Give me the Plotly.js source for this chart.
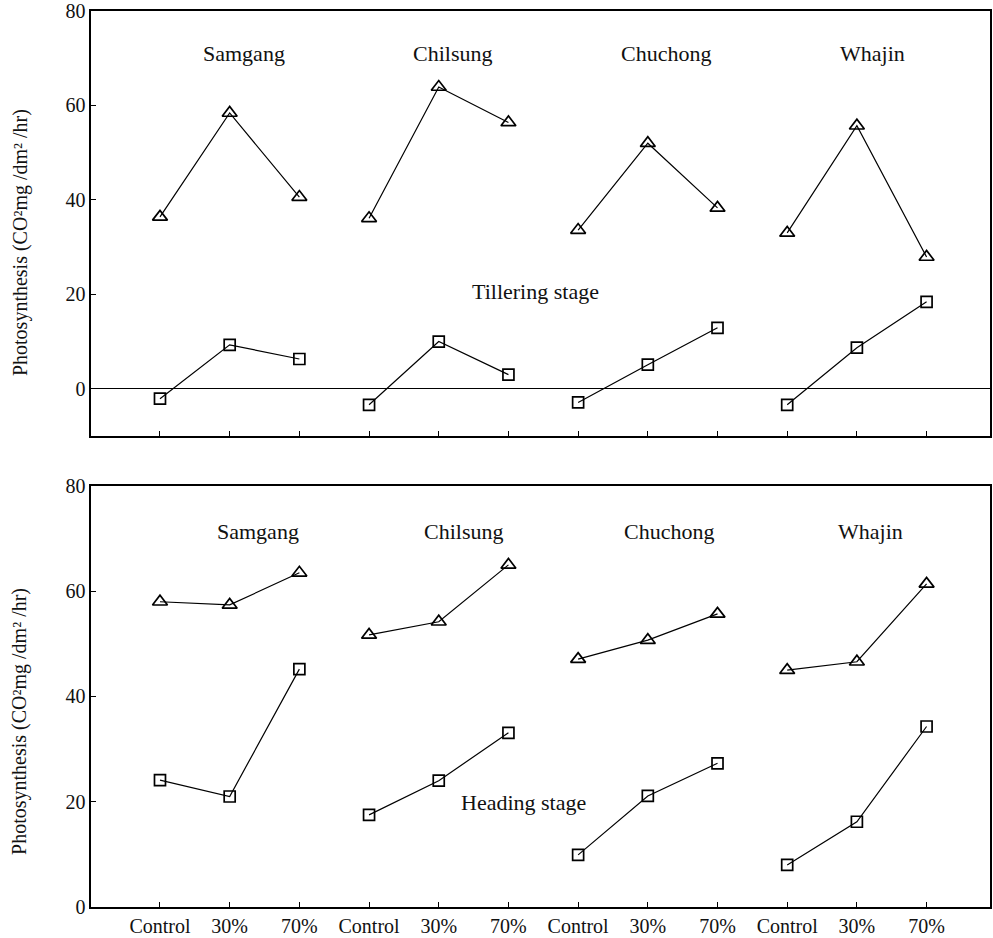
<!DOCTYPE html>
<html><head><meta charset="utf-8">
<script src="https://cdn.plot.ly/plotly-3.0.1.min.js"></script>
<style>body{margin:0;background:#fff}#chart{width:993px;height:938px}</style>
</head><body><div id="chart"></div>
<script>
const cultivars = ["Samgang", "Chilsung", "Chuchong", "Whajin"];
const treatments = ["Control", "30%", "70%"];
const tillerTriangle = [36.4, 58.4, 40.6, 36.1, 63.9, 56.4, 33.6, 52.0, 38.3, 33.0, 55.7, 27.9];
const tillerSquare = [-2.1, 9.3, 6.3, -3.4, 10.0, 3.0, -2.9, 5.1, 12.9, -3.4, 8.7, 18.4];
const headTriangle = [58.0, 57.4, 63.5, 51.7, 54.2, 65.0, 47.1, 50.7, 55.7, 45.0, 46.6, 61.4];
const headSquare = [24.1, 21.0, 45.2, 17.5, 24.0, 33.1, 9.9, 21.1, 27.3, 8.0, 16.2, 34.3];
const yTicks = [0, 20, 40, 60, 80];

const FONT = "Liberation Serif";
const positions = [];
const tickText = [];
cultivars.forEach((c, g) => treatments.forEach((t, k) => { positions.push(g * 3 + k); tickText.push(t); }));

const traces = [];
function addSeries(values, symbol, size, xa, ya) {
  cultivars.forEach((c, g) => {
    const xs = [], ys = [];
    for (let k = 0; k < treatments.length; k++) { xs.push(positions[g * 3 + k]); ys.push(values[g * 3 + k]); }
    traces.push({
      x: xs, y: ys, xaxis: xa, yaxis: ya, type: "scatter", mode: "lines+markers",
      line: {color: "#000", width: 1.2},
      marker: {symbol: symbol, size: size, color: "#000", line: {color: "#000", width: 1.7}},
      showlegend: false, hoverinfo: "skip"
    });
  });
}
addSeries(tillerTriangle, "triangle-up-open", 13, "x", "y");
addSeries(tillerSquare, "square-open", 11, "x", "y");
addSeries(headTriangle, "triangle-up-open", 13, "x2", "y2");
addSeries(headSquare, "square-open", 11, "x2", "y2");

const axisCommon = {
  showgrid: false, showline: true, linecolor: "#000", linewidth: 1.6, mirror: true,
  ticks: "inside", ticklen: 5, tickcolor: "#000", tickwidth: 1,
  tickfont: {family: FONT, size: 20, color: "#111"}
};
const xRange = [-0.99, 11.91];
const txtFont = {family: FONT, size: 22, color: "#111"};

const annotations = [];
const topLabelX = [1.21, 4.20, 7.26, 10.23];
const botLabelX = [1.41, 4.35, 7.30, 10.19];
cultivars.forEach((c, i) => {
  annotations.push({text: c, x: topLabelX[i], y: 71.1, xref: "x", yref: "y", showarrow: false, font: txtFont});
  annotations.push({text: c, x: botLabelX[i], y: 71.4, xref: "x2", yref: "y2", showarrow: false, font: txtFont});
});
annotations.push({text: "Tillering stage", x: 5.39, y: 20.5, xref: "x", yref: "y", showarrow: false, font: txtFont});
annotations.push({text: "Heading stage", x: 5.21, y: 19.8, xref: "x2", yref: "y2", showarrow: false, font: txtFont});
const yTitleText = "Photosynthesis (CO²mg /dm² /hr)";
[0.741, 0.2065].forEach(py => annotations.push({
  text: yTitleText, xref: "paper", yref: "paper", x: 0, y: py, xshift: -71, textangle: -90,
  showarrow: false, xanchor: "center", yanchor: "middle", font: {family: FONT, size: 20, color: "#111"}
}));

const layout = {
  width: 993, height: 938,
  margin: {l: 91, r: 3, t: 11, b: 31},
  paper_bgcolor: "#fff", plot_bgcolor: "#fff",
  font: {family: FONT, color: "#111"},
  xaxis: Object.assign({}, axisCommon, {range: xRange, tickvals: positions, ticktext: tickText, showticklabels: false, anchor: "y", zeroline: false}),
  yaxis: Object.assign({}, axisCommon, {range: [-10, 80], tickvals: yTicks, domain: [0.5257, 1], anchor: "x",
    zeroline: true, zerolinecolor: "#000", zerolinewidth: 1.4}),
  xaxis2: Object.assign({}, axisCommon, {range: xRange, tickvals: positions, ticktext: tickText, anchor: "y2", zeroline: false}),
  yaxis2: Object.assign({}, axisCommon, {range: [0, 80], tickvals: yTicks, domain: [0, 0.4699], anchor: "x2", zeroline: false}),
  annotations: annotations
};
Plotly.newPlot("chart", traces, layout, {staticPlot: true});
</script></body></html>
